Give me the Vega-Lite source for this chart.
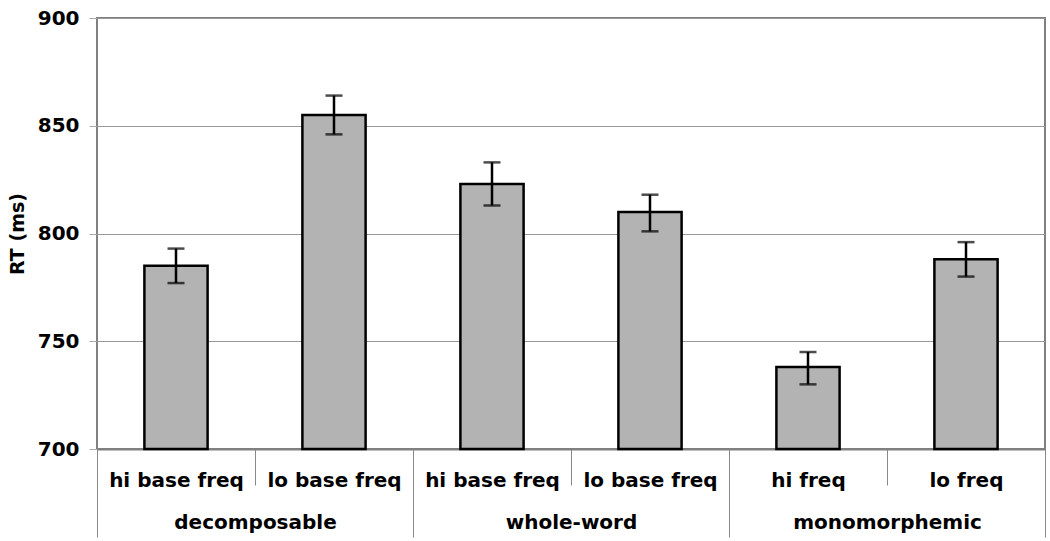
{
  "$schema": "https://vega.github.io/schema/vega-lite/v6.json",
  "width": 948,
  "height": 431,
  "autosize": {"type": "none"},
  "padding": {"left": 97, "top": 18, "right": 5, "bottom": 92},
  "background": "white",
  "config": {"view": {"stroke": "#808080", "strokeWidth": 2}, "font": "DejaVu Sans"},
  "datasets": {
    "bars": [
      {"key": "decomposable: hi base freq", "rt": 785, "lo": 777, "hi": 793},
      {"key": "decomposable: lo base freq", "rt": 855, "lo": 846, "hi": 864},
      {"key": "whole-word: hi base freq", "rt": 823, "lo": 813, "hi": 833},
      {"key": "whole-word: lo base freq", "rt": 810, "lo": 801, "hi": 818},
      {"key": "monomorphemic: hi freq", "rt": 738, "lo": 730, "hi": 745},
      {"key": "monomorphemic: lo freq", "rt": 788, "lo": 780, "hi": 796}
    ],
    "groups": [
      {"group": "decomposable"},
      {"group": "whole-word"},
      {"group": "monomorphemic"}
    ]
  },
  "layer": [
    {
      "data": {"name": "bars"},
      "encoding": {
        "x": {
          "field": "key", "type": "nominal", "sort": null,
          "scale": {"paddingInner": 0, "paddingOuter": 0},
          "axis": {
            "title": null, "orient": "bottom", "tickBand": "extent", "tickSize": 36,
            "tickColor": "#888", "tickWidth": 1, "domainColor": "#808080", "domainWidth": 2,
            "labelExpr": "split(datum.label, ': ')[1]", "labelFont": "DejaVu Sans",
            "labelFontWeight": "bold", "labelFontSize": 20, "labelColor": "black",
            "labelPadding": -15, "labelAngle": 0, "labelLimit": 300
          }
        }
      },
      "layer": [
        {
          "mark": {"type": "bar", "width": {"band": 0.4}, "fill": "#b3b3b3", "stroke": "black", "strokeWidth": 2.5},
          "encoding": {
            "y": {
              "field": "rt", "type": "quantitative", "title": "RT (ms)",
              "scale": {"domain": [700, 900], "zero": false, "nice": false},
              "axis": {
                "title": "RT (ms)", "values": [700, 750, 800, 850, 900], "grid": true,
                "gridColor": "#999", "gridWidth": 1.2, "domain": false, "tickColor": "#aaa",
                "tickSize": 8, "labelFont": "DejaVu Sans", "labelFontWeight": "bold",
                "labelFontSize": 20, "labelColor": "black", "labelPadding": 10,
                "titleFont": "DejaVu Sans", "titleFontSize": 19, "titleFontWeight": "bold",
                "titleColor": "black", "titlePadding": 10
              }
            },
            "y2": {"datum": 700}
          }
        },
        {
          "mark": {"type": "rule", "strokeWidth": 2.5, "color": "black"},
          "encoding": {
            "y": {"field": "lo", "type": "quantitative", "title": "RT (ms)"},
            "y2": {"field": "hi"}
          }
        },
        {
          "mark": {"type": "tick", "thickness": 2.5, "size": 17, "color": "black"},
          "encoding": {"y": {"field": "lo", "type": "quantitative", "title": "RT (ms)"}}
        },
        {
          "mark": {"type": "tick", "thickness": 2.5, "size": 17, "color": "black"},
          "encoding": {"y": {"field": "hi", "type": "quantitative", "title": "RT (ms)"}}
        }
      ]
    },
    {
      "data": {"name": "groups"},
      "mark": {"type": "tick", "opacity": 0},
      "encoding": {
        "x": {
          "field": "group", "type": "nominal", "sort": null,
          "scale": {"paddingInner": 0, "paddingOuter": 0},
          "axis": {
            "title": null, "orient": "bottom", "tickBand": "extent", "tickSize": 88,
            "tickColor": "#888", "tickWidth": 1, "domain": false,
            "labelFont": "DejaVu Sans", "labelFontWeight": "bold", "labelFontSize": 20,
            "labelColor": "black", "labelPadding": -25, "labelAngle": 0, "labelLimit": 300
          }
        },
        "y": {"datum": 700, "type": "quantitative", "title": "RT (ms)"}
      }
    }
  ],
  "resolve": {"scale": {"x": "independent"}, "axis": {"x": "independent"}}
}
